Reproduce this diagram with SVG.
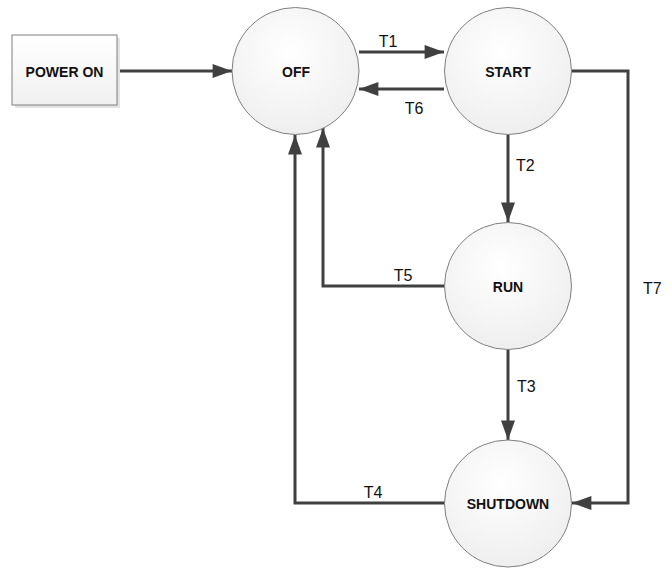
<svg xmlns="http://www.w3.org/2000/svg" width="672" height="568" viewBox="0 0 672 568">
  <defs>
    <radialGradient id="nodeFill" cx="0.45" cy="0.35" r="0.75">
      <stop offset="0" stop-color="#ffffff"/>
      <stop offset="1" stop-color="#ececec"/>
    </radialGradient>
    <linearGradient id="boxFill" x1="0" y1="0" x2="0" y2="1">
      <stop offset="0" stop-color="#ffffff"/>
      <stop offset="1" stop-color="#f0f0f0"/>
    </linearGradient>
    <marker id="arrow" markerUnits="userSpaceOnUse" markerWidth="20" markerHeight="14" viewBox="0 0 18 13" refX="18" refY="6.5" orient="auto">
      <path d="M0,0 L18,6.5 L0,13 Z" fill="#404040"/>
    </marker>
  </defs>
  <style>
    .state { fill: url(#nodeFill); stroke: #7f7f7f; stroke-width: 1; }
    .box { fill: url(#boxFill); stroke: #7f7f7f; stroke-width: 1; }
    .shadow { fill: #e3e3e3; }
    .name { font-family: "Liberation Sans", Arial, sans-serif; font-weight: bold; font-size: 14px; fill: #111; text-anchor: middle; }
    .edge { fill: none; stroke: #404040; stroke-width: 3; }
    .arrowed { marker-end: url(#arrow); }
    .tlabel { font-family: "Liberation Sans", Arial, sans-serif; font-size: 16px; fill: #111; }
  </style>

  <g id="connectors">
    <path class="edge arrowed" d="M117,71 L232,71"/>
    <path class="edge arrowed" d="M359,52 L444,52"/>
    <path class="edge arrowed" d="M444,89 L359,89"/>
    <path class="edge arrowed" d="M508,135 L508,222"/>
    <path class="edge arrowed" d="M445,286 L323,286 L323,128"/>
    <path class="edge arrowed" d="M508,350 L508,440"/>
    <path class="edge arrowed" d="M445,503 L295,503 L295,135"/>
    <path class="edge arrowed" d="M572,71 L628,71 L628,503 L572,503"/>
    <text class="tlabel" x="388" y="47" text-anchor="middle">T1</text>
    <text class="tlabel" x="414" y="114" text-anchor="middle">T6</text>
    <text class="tlabel" x="516" y="171">T2</text>
    <text class="tlabel" x="403" y="281" text-anchor="middle">T5</text>
    <text class="tlabel" x="517" y="392">T3</text>
    <text class="tlabel" x="373" y="498" text-anchor="middle">T4</text>
    <text class="tlabel" x="643" y="294">T7</text>
  </g>

  <g id="power-on">
    <rect class="shadow" x="15" y="38" width="105" height="70"/>
    <rect class="box" x="12" y="35" width="105" height="70"/>
    <text class="name" x="64.5" y="77">POWER ON</text>
  </g>
  <g id="off">
    <circle class="state" cx="295.5" cy="71" r="63.5"/>
    <text class="name" x="296" y="77">OFF</text>
  </g>
  <g id="start">
    <circle class="state" cx="508" cy="71" r="63.5"/>
    <text class="name" x="508" y="77">START</text>
  </g>
  <g id="run">
    <circle class="state" cx="508" cy="286" r="63.5"/>
    <text class="name" x="508" y="292">RUN</text>
  </g>
  <g id="shutdown">
    <circle class="state" cx="508" cy="503.5" r="63.5"/>
    <text class="name" x="508" y="509">SHUTDOWN</text>
  </g>
</svg>
